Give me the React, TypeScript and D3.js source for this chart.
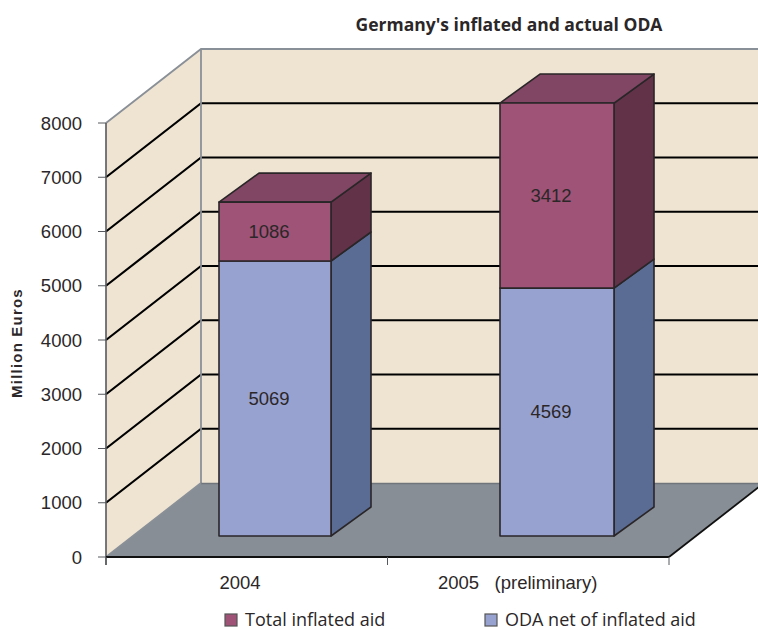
import React from "react";
import * as d3 from "d3";

const title = "Germany's inflated and actual ODA";
const yAxisTitle = "Million Euros";
const categories = ["2004", "2005"];
const categoryLabels = ["2004", "2005   (preliminary)"];
const odaNet = [5069, 4569];
const inflated = [1086, 3412];
const yTicks = [0, 1000, 2000, 3000, 4000, 5000, 6000, 7000, 8000];
const legendItems = ["Total inflated aid", "ODA net of inflated aid"];

const W = 758, H = 630;
const narrow = "'Liberation Sans Narrow', 'Liberation Sans', sans-serif";
const sans = "'Open Sans', 'Noto Sans', sans-serif";

const y = d3.scaleLinear().domain([0, 8000]).range([557, 123]);
const x = d3.scaleBand<string>().domain(categories).range([106, 669]);
// perspective offset of the back wall, and of the bars within the depth
const wallDx = 95, wallDy = -74;
const barDx = 40, barDy = -29;
const barLift = 21; // bar base above the front floor edge
const barWidth = [112, 114];
const barX = [219, 500];

const poly = (pts: number[][]) => pts.map((p) => p.join(",")).join(" ");

const colors = {
  wall: "#EFE4D2", floor: "#878E95", wallEdge: "#8A9097", axis: "#55585C",
  purple: "#9E5377", purpleTop: "#804663", purpleSide: "#623249",
  blue: "#98A2D0", blueSide: "#5A6C94", outline: "#2A2628", text: "#2B2728",
};

function Block({ x0, w, base, top, front, side, topFace, label }: any) {
  const stroke = { stroke: colors.outline, strokeWidth: 1.6, strokeLinejoin: "round" as const };
  return (
    <g>
      <polygon points={poly([[x0 + w, top], [x0 + w + barDx, top + barDy], [x0 + w + barDx, base + barDy], [x0 + w, base]])} fill={side} {...stroke} />
      {topFace && (
        <polygon points={poly([[x0, top], [x0 + barDx, top + barDy], [x0 + w + barDx, top + barDy], [x0 + w, top]])} fill={topFace} {...stroke} />
      )}
      <rect x={x0} y={top} width={w} height={base - top} fill={front} {...stroke} />
      <text x={x0 + w / 2 - 6} y={(base + top) / 2 + 6} textAnchor="middle" fontFamily={narrow} fontSize={18.5} fill={colors.text}>{label}</text>
    </g>
  );
}

export default function App() {
  const left = x.range()[0], right = x.range()[1];
  const y0 = y(0), yT = y(8000);
  return (
    <svg width={W} height={H} viewBox={`0 0 ${W} ${H}`} style={{ position: "absolute", left: 0, top: 0, background: "#fff" }}>
      <text x={509} y={31} textAnchor="middle" fontFamily={sans} fontWeight={700} fontSize={17.5} fill={colors.text}>{title}</text>

      {/* walls */}
      <polygon points={poly([[left, y0], [left + wallDx, y0 + wallDy], [left + wallDx, yT + wallDy], [left, yT]])} fill={colors.wall} />
      <rect x={left + wallDx} y={yT + wallDy} width={W - left - wallDx} height={y0 - yT} fill={colors.wall} />
      {/* floor */}
      <polygon points={poly([[left, y0], [left + wallDx, y0 + wallDy], [right + wallDx, y0 + wallDy], [right, y0]])} fill={colors.floor} />

      {/* gridlines */}
      {yTicks.slice(1, -1).map((t) => (
        <g key={t} stroke="#000" strokeWidth={2.2} fill="none">
          <polyline points={poly([[left, y(t)], [left + wallDx, y(t) + wallDy], [W, y(t) + wallDy]])} />
        </g>
      ))}

      {/* wall edges */}
      <polyline points={poly([[left, yT], [left + wallDx, yT + wallDy], [W, yT + wallDy]])} fill="none" stroke={colors.wallEdge} strokeWidth={1.8} />
      <line x1={left + wallDx} x2={left + wallDx} y1={yT + wallDy} y2={y0 + wallDy} stroke={colors.wallEdge} strokeWidth={1.8} />
      <line x1={left + wallDx} x2={W} y1={y0 + wallDy + 0.5} y2={y0 + wallDy + 0.5} stroke="#6F757B" strokeWidth={1.6} />
      <line x1={left} y1={y0} x2={left + wallDx} y2={y0 + wallDy} stroke={colors.wallEdge} strokeWidth={1.8} />
      <line x1={right} y1={y0} x2={right + wallDx} y2={y0 + wallDy} stroke="#111" strokeWidth={1.8} />

      {/* bars */}
      {categories.map((c, i) => {
        const px = barX[i], w = barWidth[i];
        const h0 = y0 - barLift;
        const b1 = h0 - (y0 - y(odaNet[i]));
        const b2 = b1 - (y0 - y(inflated[i]));
        return (
          <g key={c}>
            <Block x0={px} w={w} base={h0} top={b1} front={colors.blue} side={colors.blueSide} label={odaNet[i]} />
            <Block x0={px} w={w} base={b1} top={b2} front={colors.purple} side={colors.purpleSide} topFace={colors.purpleTop} label={inflated[i]} />
          </g>
        );
      })}

      {/* axes */}
      <line x1={left} x2={left} y1={yT} y2={y0 + 8} stroke={colors.axis} strokeWidth={1.6} />
      <line x1={left} x2={right} y1={y0} y2={y0} stroke="#111" strokeWidth={2.2} />
      {yTicks.map((t) => (
        <g key={t}>
          <line x1={98} x2={left} y1={y(t)} y2={y(t)} stroke={colors.axis} strokeWidth={1} />
          <text x={82} y={y(t) + 6.5} textAnchor="end" fontFamily={narrow} fontSize={18.5} fill={colors.text}>{t}</text>
        </g>
      ))}
      {[left, (x("2005") as number), right].map((tx) => (
        <line key={tx} x1={tx} x2={tx} y1={y0} y2={y0 + 8} stroke={colors.axis} strokeWidth={1} />
      ))}
      <text x={240} y={589} textAnchor="middle" fontFamily={narrow} fontSize={18.5} fill={colors.text}>{categoryLabels[0]}</text>
      <text x={438} y={589} fontFamily={narrow} fontSize={18.5} fill={colors.text} style={{ whiteSpace: "pre" }}>{categoryLabels[1]}</text>

      <text transform="translate(22,343) rotate(-90)" textAnchor="middle" fontFamily={"'Liberation Sans', sans-serif"} fontWeight={700} fontSize={15} letterSpacing={1.2} fill={colors.text}>{yAxisTitle}</text>

      {/* legend */}
      {legendItems.map((t, i) => {
        const lx = [225, 485][i];
        return (
          <g key={t}>
            <rect x={lx} y={614} width={12} height={12} fill={i === 0 ? colors.purple : colors.blue} stroke="#555" strokeWidth={1.2} />
            <text x={lx + 20} y={626} fontFamily={sans} fontSize={18} fill={colors.text}>{t}</text>
          </g>
        );
      })}
    </svg>
  );
}
